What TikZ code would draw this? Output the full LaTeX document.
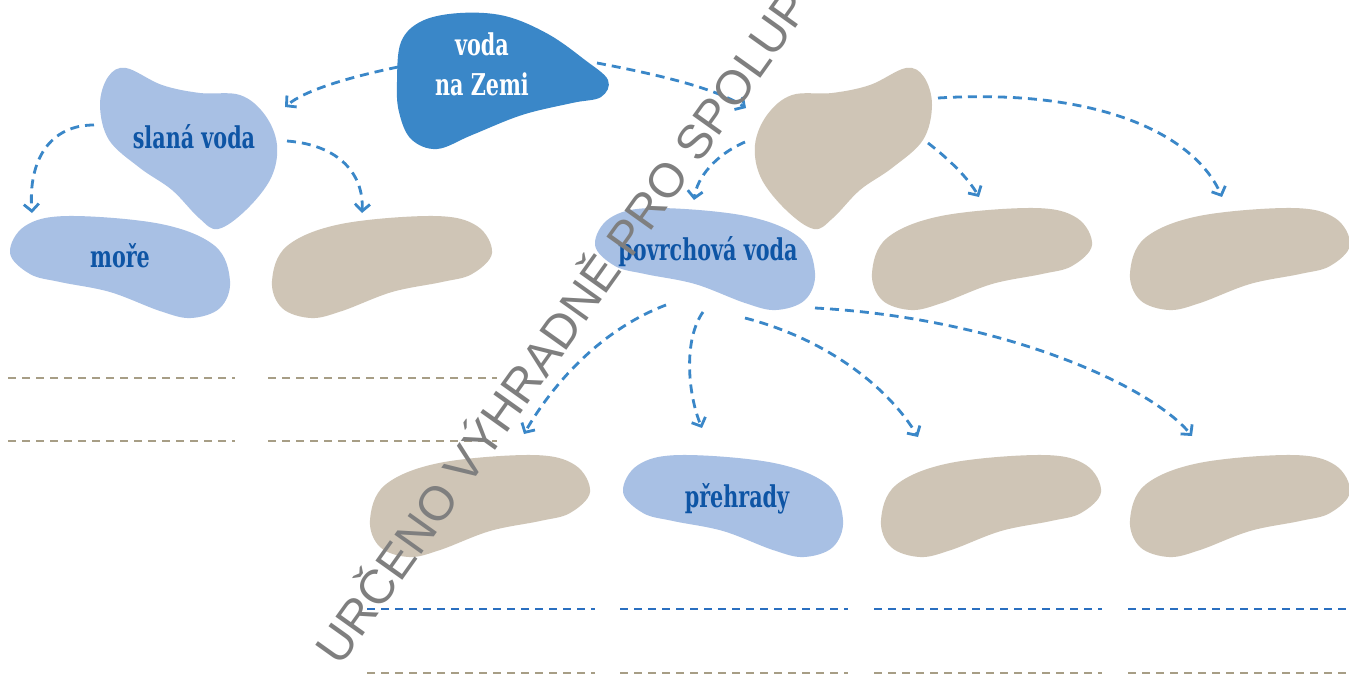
\documentclass[tikz,border=0pt]{standalone}
\usepackage{fontspec}
\usetikzlibrary{arrows.meta}
\newfontfamily\labfont[FakeStretch=0.69]{DejaVu Serif}
\newfontfamily\wmfont{Liberation Sans}
\definecolor{darkblob}{HTML}{3A87C8}
\definecolor{lightblob}{HTML}{A8C0E4}
\definecolor{beige}{HTML}{CFC5B6}
\definecolor{txtblue}{HTML}{0E55A5}
\definecolor{lineblue}{HTML}{2A6FC0}
\definecolor{linetan}{HTML}{A79E86}
\definecolor{wmgray}{HTML}{7F7F7F}
\newcommand\bean[3]{\begin{scope}[shift={(#1,#2)}]
  \fill[#3] plot[smooth cycle,tension=0.6] coordinates {(0,65) (15,30) (69,8) (162,0) (205,10) (220,37) (200,58) (170,66) (120,76) (70,95) (39,102) (10,92)};
\end{scope}}
\newcommand\beanm[3]{\begin{scope}[shift={(#1+220,#2)},xscale=-1]
  \fill[#3] plot[smooth cycle,tension=0.6] coordinates {(0,65) (15,30) (69,8) (162,0) (205,10) (220,37) (200,58) (170,66) (120,76) (70,95) (39,102) (10,92)};
\end{scope}}
\newcommand\heartblob[1]{\fill[#1] plot[smooth cycle,tension=0.6] coordinates {(100,105) (108,77) (126,68) (162,85) (200,93) (240,95) (265,115) (277,145) (271,178) (246,210) (218,229) (199,218) (172,190) (140,168) (109,140)};}
\tikzset{
  conn/.style={draw=darkblob, line width=2.8pt, dash pattern=on 9pt off 6pt,
    -{Straight Barb[length=7pt,width=15pt]}},
  lab/.style={font=\labfont\bfseries\fontsize{30}{36}\selectfont, text=txtblue, inner sep=0pt, anchor=base},
  wlab/.style={lab, text=white},
  ansblue/.style={draw=lineblue, line width=2pt, dash pattern=on 8pt off 6pt},
  anstan/.style={draw=linetan, line width=2pt, dash pattern=on 8pt off 6pt},
}
\begin{document}
\begin{tikzpicture}[x=1pt,y=-1pt]
\useasboundingbox (0,0) rectangle (1349,675);
\clip (0,0) rectangle (1349,675);
\fill[white] (0,0) rectangle (1349,675);

% blobs
\fill[darkblob] plot[smooth cycle,tension=0.6] coordinates {(397,82) (401,42) (422,21) (460,13) (505,16) (548,34) (585,60) (608,80) (601,97) (572,103) (522,115) (472,135) (437,149) (411,139) (399,112)};
\heartblob{lightblob}
\begin{scope}[xshift=1032pt,xscale=-1]\heartblob{beige}\end{scope}
\beanm{10}{216}{lightblob}
\bean{272}{216}{beige}
\beanm{595}{208}{lightblob}
\bean{872}{208}{beige}
\bean{1130}{208}{beige}
\bean{370}{455}{beige}
\beanm{623}{455}{lightblob}
\bean{881}{455}{beige}
\bean{1130}{455}{beige}

% labels
\node[wlab] (voda) at (482,55) {voda};
\node[wlab] (zemi) at (482,95) {na Zemi};
\node[lab] (slana) at (194,148) {slaná voda};
\node[lab] (more) at (120,267) {moře};
\node[lab] (povrch) at (708,260) {povrchová voda};
\node[lab] (prehr) at (737,507) {přehrady};

% connector end points
\coordinate (zL) at (398,67);   \coordinate (slT) at (285,107);
\coordinate (zR) at (597,63);   \coordinate (gbT) at (746,108);
\coordinate (slL) at (94,125);  \coordinate (moT) at (32,213);
\coordinate (slR) at (287,141); \coordinate (b1T) at (362,213);
\coordinate (gbL) at (745,142); \coordinate (pvT) at (694,200);
\coordinate (gbR) at (928,143); \coordinate (b2T) at (979,197);
\coordinate (gbU) at (938,98);  \coordinate (b3T) at (1222,197);
\coordinate (pv1) at (666,305); \coordinate (r1T) at (524,434);
\coordinate (pv2) at (703,312); \coordinate (r2T) at (702,428);
\coordinate (pv3) at (745,318); \coordinate (r3T) at (918,437);
\coordinate (pv4) at (815,308); \coordinate (r4T) at (1192,436);

% connectors
\draw[conn] (zL) .. controls (350,77) and (305,90) .. (slT);
\draw[conn] (zR) .. controls (660,75) and (715,88) .. (gbT);
\draw[conn] (slL) .. controls (50,125) and (28,160) .. (moT);
\draw[conn] (slR) .. controls (340,145) and (364,175) .. (b1T);
\draw[conn] (gbL) .. controls (715,155) and (697,178) .. (pvT);
\draw[conn] (gbR) .. controls (950,160) and (968,178) .. (b2T);
\draw[conn] (gbU) .. controls (1100,88) and (1195,135) .. (b3T);
\draw[conn] (pv1) .. controls (600,330) and (552,385) .. (r1T);
\draw[conn] (pv2) .. controls (683,340) and (688,395) .. (r2T);
\draw[conn] (pv3) .. controls (830,340) and (890,390) .. (r3T);
\draw[conn] (pv4) .. controls (1000,318) and (1150,385) .. (r4T);

% answer lines
\draw[anstan] (8,378) -- (235,378);
\draw[anstan] (268,378) -- (497,378);
\draw[anstan] (8,441) -- (235,441);
\draw[anstan] (268,441) -- (497,441);
\foreach \xa/\xb in {367/595, 620/848, 874/1102, 1128/1349}{
  \draw[ansblue] (\xa,609) -- (\xb,609);
  \draw[anstan] (\xa,673) -- (\xb,673);
}

% watermark
\node[anchor=base west, rotate=54.5, inner sep=0pt, text=wmgray,
  font=\wmfont\fontsize{48}{56}\selectfont] (wm) at (340,668) {URČENO VÝHRADNĚ PRO SPOLUP};
\end{tikzpicture}
\end{document}
